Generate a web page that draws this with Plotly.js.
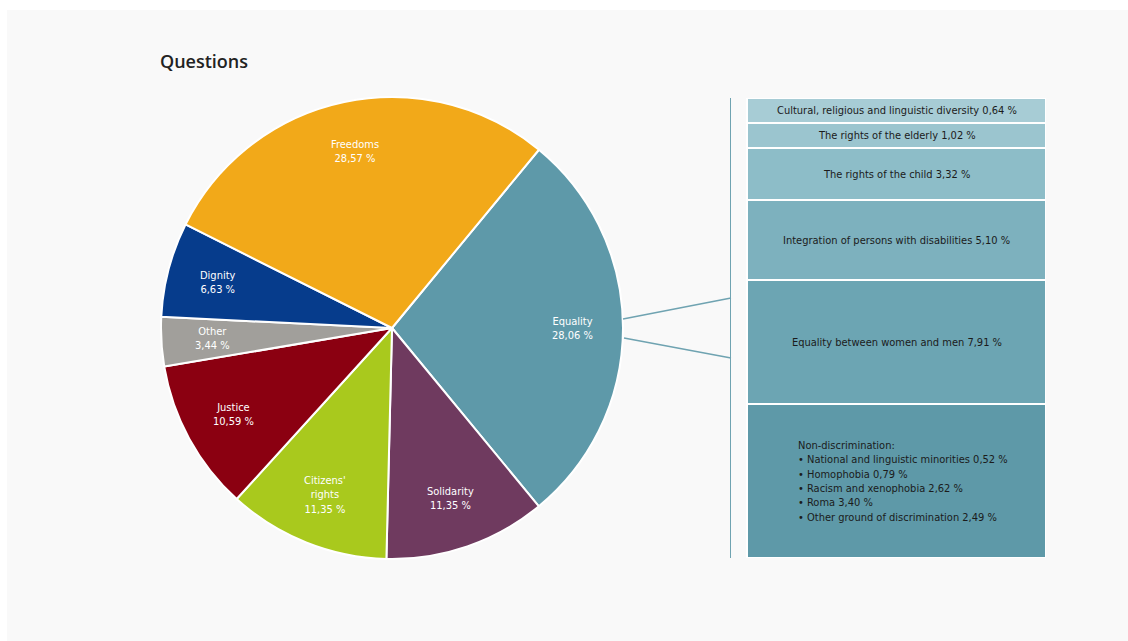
<!DOCTYPE html>
<html>
<head>
<meta charset="utf-8">
<script src="https://cdn.plot.ly/plotly-3.0.1.min.js"></script>
<style>
  html, body { margin: 0; padding: 0; background: #ffffff; }
  #chart { position: absolute; left: 7px; top: 10px; width: 1121px; height: 631px; }
</style>
</head>
<body>
<div id="chart"></div>
<script>
// ---- Data ----
const pieLabels = ["Equality", "Solidarity", "Citizens'<br>rights", "Justice", "Other", "Dignity", "Freedoms"];
const pieValues = [28.06, 11.35, 11.35, 10.59, 3.44, 6.63, 28.57];
const pieColors = ["#5e99a9", "#6f3a5f", "#a9c91d", "#8b0011", "#a19f9b", "#063c8c", "#f2a919"];

// Breakdown of Equality (top to bottom)
const subLabels = [
  "Cultural, religious and linguistic diversity",
  "The rights of the elderly",
  "The rights of the child",
  "Integration of persons with disabilities",
  "Equality between women and men",
  "Non-discrimination:"
];
const subValues = [0.64, 1.02, 3.32, 5.10, 7.91, 9.82];
const subColors = ["#a7ccd5", "#9bc5cf", "#8dbdc8", "#7db1be", "#6ca5b3", "#5e99a8"];

// Non-discrimination detail
const ndLabels = ["National and linguistic minorities", "Homophobia", "Racism and xenophobia", "Roma", "Other ground of discrimination"];
const ndValues = [0.52, 0.79, 2.62, 3.40, 2.49];

// ---- helpers ----
const W = 1121, H = 631, OX = 7, OY = 10;
const fmt = v => v.toFixed(2).replace('.', ',') + ' %';
const px = x => (x - OX) / W;
const py = y => 1 - (y - OY) / H;
const MIN_H = 1.6; // minimum displayed box height (in % units) so text fits
const dispH = subValues.map(v => Math.max(v, MIN_H));
const totalH = dispH.reduce((a, b) => a + b, 0);

const FONT = "DejaVu Sans Condensed, Liberation Sans Narrow, sans-serif";

// pie geometry (domain)
const ROT = 39.5;
const pieDom = { x: [px(161), px(623)], y: [py(559), py(97)] };
const LABEL_R = 0.78; // labels at 78% of radius

const traces = [];
traces.push({
  type: 'pie',
  labels: pieLabels,
  values: pieValues,
  marker: { colors: pieColors, line: { color: '#ffffff', width: 2 } },
  sort: false,
  direction: 'clockwise',
  rotation: ROT,
  textinfo: 'none',
  hoverinfo: 'skip',
  showlegend: false,
  domain: pieDom
});

subLabels.forEach((lab, i) => {
  traces.push({
    type: 'bar',
    x: [0],
    y: [dispH[i]],
    width: [1],
    xaxis: 'x2', yaxis: 'y2',
    marker: { color: subColors[i], line: { color: '#ffffff', width: 2 } },
    hoverinfo: 'skip',
    showlegend: false,
    name: lab
  });
});

const annotations = [];

// pie labels at slice mid-angles
const pieTotal = pieValues.reduce((a, b) => a + b, 0);
const cxPx = (pieDom.x[0] + pieDom.x[1]) / 2 * W;
const cyPx = (1 - (pieDom.y[0] + pieDom.y[1]) / 2) * H;
const rPx = Math.min((pieDom.x[1] - pieDom.x[0]) * W, (pieDom.y[1] - pieDom.y[0]) * H) / 2;
let acc = 0;
pieLabels.forEach((lab, i) => {
  const midDeg = ROT + (acc + pieValues[i] / 2) / pieTotal * 360;
  acc += pieValues[i];
  const a = midDeg * Math.PI / 180;
  const lx = cxPx + LABEL_R * rPx * Math.sin(a);
  const ly = cyPx - LABEL_R * rPx * Math.cos(a);
  annotations.push({
    xref: 'paper', yref: 'paper', x: lx / W, y: 1 - ly / H,
    text: lab + '<br>' + fmt(pieValues[i]), showarrow: false, align: 'center',
    xanchor: 'center', yanchor: 'middle',
    font: { family: FONT, size: 11, color: '#ffffff' }
  });
});

// box labels
let cum = 0;
subLabels.forEach((lab, i) => {
  const mid = cum + dispH[i] / 2;
  cum += dispH[i];
  let txt, align = 'center', xs = 0;
  if (i === subLabels.length - 1) {
    txt = lab + '<br>' + ndLabels.map((l, j) => '• ' + l + ' ' + fmt(ndValues[j])).join('<br>');
    align = 'left';
    xs = 6;
  } else {
    txt = lab + ' ' + fmt(subValues[i]);
  }
  annotations.push({
    xref: 'x2', yref: 'y2', x: 0, y: mid, xshift: xs,
    text: txt, showarrow: false, align: align,
    xanchor: 'center', yanchor: 'middle',
    font: { family: FONT, size: 11, color: '#1b1b1b' }
  });
});

const lineColor = '#6fa3b1';
const shapes = [
  { type: 'line', xref: 'paper', yref: 'paper', x0: px(623), y0: py(319), x1: px(731), y1: py(298), line: { color: lineColor, width: 1.5 } },
  { type: 'line', xref: 'paper', yref: 'paper', x0: px(624), y0: py(338), x1: px(731), y1: py(358), line: { color: lineColor, width: 1.5 } }
];

const layout = {
  width: W, height: H,
  margin: { l: 0, r: 0, t: 0, b: 0 },
  paper_bgcolor: '#f9f9f9',
  plot_bgcolor: 'rgba(0,0,0,0)',
  separators: ',.',
  barmode: 'stack',
  bargap: 0,
  showlegend: false,
  title: {
    text: 'Questions',
    x: px(160), xanchor: 'left', xref: 'paper',
    y: py(62), yanchor: 'middle', yref: 'paper',
    font: { family: 'Open Sans, Noto Sans, sans-serif', size: 18, color: '#222222', weight: 600 }
  },
  xaxis2: {
    domain: [px(731), px(1046)],
    range: [-0.5 - 16 / 299, 0.5],
    showgrid: false, zeroline: false, showticklabels: false, showline: false, fixedrange: true,
    anchor: 'y2'
  },
  yaxis2: {
    domain: [py(558), py(98)],
    range: [totalH, 0],
    showgrid: false, zeroline: false, showticklabels: false, ticks: '',
    showline: true, linecolor: lineColor, linewidth: 1.5,
    anchor: 'x2', fixedrange: true
  },
  annotations: annotations,
  shapes: shapes
};

Plotly.newPlot('chart', traces, layout, { displayModeBar: false, staticPlot: true });
</script>
</body>
</html>
